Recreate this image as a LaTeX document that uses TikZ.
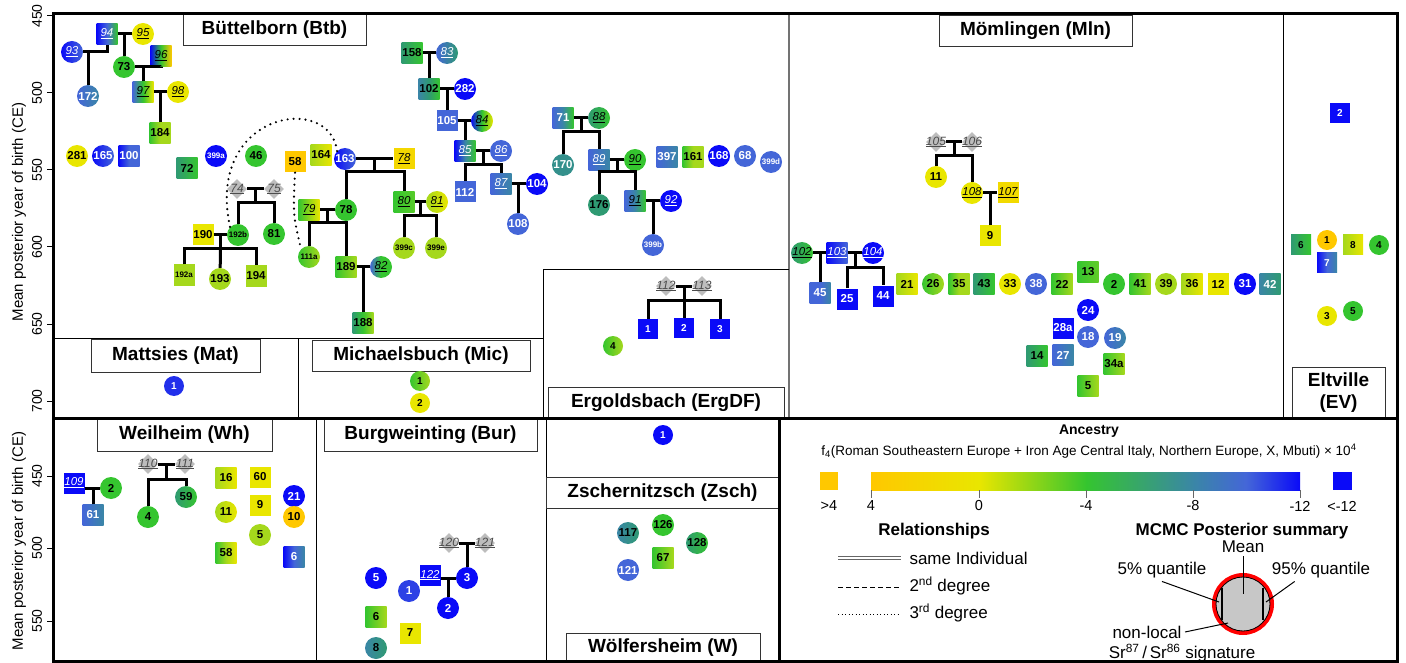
\documentclass[tikz,border=0pt]{standalone}
\usepackage{fontspec}
\setmainfont{Liberation Sans}
\usetikzlibrary{calc,shapes.geometric}

\definecolor{cGold}{HTML}{FFC800}
\definecolor{cYel}{HTML}{E9E600}
\definecolor{cYG}{HTML}{A5D81C}
\definecolor{cGrn}{HTML}{35C52F}
\definecolor{cTeal}{HTML}{2F9A72}
\definecolor{cSea}{HTML}{3A86A6}
\definecolor{cSteel}{HTML}{4466D8}
\definecolor{cBlue}{HTML}{0A0AF8}
\definecolor{cDia}{HTML}{BDBDBD}

\newcommand{\kin}[1]{\underline{\mdseries\itshape #1}}

\tikzset{
  nd/.style={inner sep=0pt, font=\bfseries\fontsize{11.5}{12}\selectfont},
  sq/.style={nd, rectangle, minimum width=21pt, minimum height=21pt},
  ci/.style={nd, circle, minimum size=22pt},
  dm/.style={diamond, fill=cDia, minimum size=20pt, inner sep=0pt,
    label={[font=\fontsize{12}{12}\selectfont, text=black!70]center:\kin{#1}}},
  sm/.style={font=\bfseries\fontsize{8}{9}\selectfont},
  ti/.style={font=\bfseries\fontsize{10}{10}\selectfont, minimum size=20pt},
  wt/.style={text=white},
  s2/.style 2 args={left color=#1, right color=#2},
  s3/.style n args={3}{left color=#1, right color=#3, middle color=#2},
  rel/.style={line width=3pt},
  deg3/.style={line width=2.4pt, dash pattern=on 0pt off 6pt, line cap=round},
  ttl/.style={draw=black!80, fill=white, inner sep=0pt, minimum height=31pt,
    font=\bfseries\fontsize{19}{22}\selectfont},
  lgd/.style={font=\fontsize{17}{19}\selectfont},
}

\begin{document}
\begin{tikzpicture}[x=1pt, y=-1pt]
\useasboundingbox (0,0) rectangle (1406,663);

% panels
\draw[black!55, line width=1.5pt] (789,14) -- (789,418);
\draw (1283,14) -- (1283,418);
\draw (53,338) -- (543,338);
\draw (298,338) -- (298,418);
\draw (543,418) |- (789,269);
\draw (316,418) -- (316,661);
\draw (546,418) -- (546,661);

% axes
\foreach \v/\yy in {450/16, 500/93, 550/170, 600/247, 650/324, 700/401, 450/476, 500/548, 550/621}{
  \draw[line width=1pt] (47,\yy) -- (53,\yy);
  \node[rotate=90, font=\fontsize{14}{14}\selectfont] at (37,\yy) {\v};
}
\node[rotate=90, font=\fontsize{15}{15}\selectfont] at (19,212) {Mean posterior year of birth (CE)};
\node[rotate=90, font=\fontsize{15}{15}\selectfont] at (19,541) {Mean posterior year of birth (CE)};

% titles
\node[ttl, minimum width=183pt] (tBtb) at (274.5,30) {Büttelborn (Btb)};
\node[ttl, minimum width=193pt] (tMln) at (1035.5,31) {Mömlingen (Mln)};
\node[ttl, minimum width=169pt, minimum height=33pt] (tMat) at (175.5,355.5) {Mattsies (Mat)};
\node[ttl, minimum width=218pt] (tMic) at (421,355.5) {Michaelsbuch (Mic)};
\node[ttl, minimum width=236pt] (tErg) at (666,402.5) {Ergoldsbach (ErgDF)};
\node[ttl, minimum width=93pt, minimum height=51pt, align=center] (tEV) at (1338.5,392.5) {Eltville\\(EV)};
\node[ttl, minimum width=175pt, minimum height=33pt] (tWh) at (184.5,434.5) {Weilheim (Wh)};
\node[ttl, minimum width=213pt, minimum height=33pt] (tBur) at (430.5,434.5) {Burgweinting (Bur)};
\node[ttl, minimum width=233pt] (tZsch) at (662.5,492.5) {Zschernitzsch (Zsch)};
\node[ttl, minimum width=194pt, minimum height=30pt] (tW) at (663,648) {Wölfersheim (W)};

% Buettelborn
\node[ci, s2={cBlue}{cSteel}, wt] (b93) at (72,52) {\kin{93}};
\node[sq, s3={cBlue}{cSteel}{cGrn}, wt] (b94) at (107,34) {\kin{94}};
\node[ci, fill=cYel] (b95) at (143,34) {\kin{95}};
\node[sq, s3={cBlue}{cGrn}{cGold}] (b96) at (161,56) {\kin{96}};
\node[ci, fill=cGrn] (b73) at (124,67) {73};
\node[sq, s3={cSteel}{cGrn}{cYel}] (b97) at (143,92) {\kin{97}};
\node[ci, fill=cYel] (b98) at (178,92) {\kin{98}};
\node[ci, s2={cSteel}{cSea}, wt] (b172) at (88,96) {172};
\node[sq, s3={cGrn}{cYG}{cYG}] (b184) at (160,133) {184};
\node[ci, fill=cYel] (b281) at (77,156) {281};
\node[ci, s2={cBlue}{cSteel}, wt] (b165) at (103,156) {165};
\node[sq, s3={cBlue}{cSteel}{cSteel}, wt] (b100) at (129,156) {100};
\node[sq, s2={cTeal}{cGrn}] (b72) at (187,168) {72};
\node[ci, sm, fill=cBlue, wt] (b399a) at (216,156) {399a};
\node[ci, fill=cGrn] (b46) at (256,156) {46};
\node[sq, fill=cGold] (b58) at (295,162) {58};
\node[sq, s2={cYG}{cYel}] (b164) at (321,155) {164};
\node[ci, s2={cBlue}{cSteel}, wt] (b163) at (345,159) {163};
\node[sq, fill=cGold!50!cYel] (b78k) at (404,159) {\kin{78}};
\node[dm=74] (b74) at (237,189) {};
\node[dm=75] (b75) at (274,189) {};
\node[sq, fill=cYel] (b190) at (203,235) {190};
\node[ci, sm, fill=cGrn] (b192b) at (238,235) {192b};
\node[ci, fill=cGrn] (b81) at (274,234) {81};
\node[sq, sm, fill=cYG] (b192a) at (184,275) {192a};
\node[ci, fill=cYG] (b193) at (220,279) {193};
\node[sq, fill=cYG] (b194) at (256,276) {194};
\node[sq, s2={cGrn}{cYel}] (b79) at (309,210) {\kin{79}};
\node[ci, fill=cGrn] (b78) at (346,210) {78};
\node[ci, sm, s2={cGrn}{cYG}] (b111a) at (309,257) {111a};
\node[sq, s2={cGrn}{cYG}] (b189) at (346,267) {189};
\node[ci, s3={cSteel}{cGrn}{cGrn}] (b82) at (381,267) {\kin{82}};
\node[sq, s3={cTeal}{cGrn}{cYG}] (b188) at (363,323) {188};
\node[sq, s2={cGrn}{cGrn!70!cYG}] (b80) at (404,202) {\kin{80}};
\node[ci, s2={cYG}{cYel}] (b81k) at (437,202) {\kin{81}};
\node[ci, sm, fill=cYG] (b399c) at (404,248) {399c};
\node[ci, sm, fill=cYG] (b399e) at (436,248) {399e};
\node[sq, s2={cTeal}{cGrn}] (b158) at (412,53) {158};
\node[ci, s2={cSteel}{cTeal}, wt] (b83) at (447,53) {\kin{83}};
\node[sq, s3={cSea}{cTeal}{cGrn}] (b102) at (429,89) {102};
\node[ci, fill=cBlue, wt] (b282) at (465,89) {282};
\node[sq, fill=cSteel, wt] (b105) at (447,121) {105};
\node[ci, s3={cBlue}{cGrn}{cYel}] (b84) at (482,121) {\kin{84}};
\node[sq, s3={cBlue}{cSea}{cGrn}, wt] (b85) at (465,151) {\kin{85}};
\node[ci, fill=cSteel, wt] (b86) at (501,151) {\kin{86}};
\node[sq, fill=cSteel, wt] (b112) at (465,192) {112};
\node[sq, s2={cSteel}{cSea}, wt] (b87) at (501,184) {\kin{87}};
\node[ci, fill=cBlue, wt] (b104) at (537,184) {104};
\node[ci, fill=cSteel, wt] (b108) at (518,224) {108};
\node[sq, s3={cSteel}{cSea}{cGrn}, wt] (b71) at (563,118) {71};
\node[ci, s2={cTeal}{cGrn}] (b88) at (599,118) {\kin{88}};
\node[ci, fill=cSea!50!cTeal, wt] (b170) at (563,165) {170};
\node[sq, s2={cSteel}{cSea}, wt] (b89) at (599,160) {\kin{89}};
\node[ci, fill=cGrn] (b90) at (635,160) {\kin{90}};
\node[ci, fill=cTeal] (b176) at (599,205) {176};
\node[sq, s3={cSteel}{cSea}{cGrn}] (b91) at (635,201) {\kin{91}};
\node[ci, fill=cBlue, wt] (b92) at (671,201) {\kin{92}};
\node[ci, sm, fill=cSteel, wt] (b399b) at (653,245) {399b};
\node[sq, s2={cSteel}{cSea}, wt] (b397) at (667,157) {397};
\node[sq, s3={cGrn}{cYG}{cYG}] (b161) at (693,157) {161};
\node[ci, fill=cBlue, wt] (b168) at (719,156) {168};
\node[ci, fill=cSteel, wt] (b68) at (745,156) {68};
\node[ci, sm, fill=cSteel, wt] (b399d) at (771,162) {399d};

\draw[rel] (b93) -| (b94);
\draw[rel] (b172) -- (b172 |- b93);
\draw[rel] (b94) -- (b95);
\draw[rel] (b73) -- (b73 |- b94);
\draw[rel] (b73) -| (b96);
\draw[rel] (b97) -- (b97 |- b73);
\draw[rel] (b97) -- (b98);
\draw[rel] (b184) -- (b184 |- b97);
\draw[rel] (b158) -- (b83);
\draw[rel] (b102) -- (b102 |- b158);
\draw[rel] (b102) -- (b282);
\draw[rel] (b105) -- (b105 |- b102);
\draw[rel] (b105) -- (b84);
\draw[rel] (b85) -- (b85 |- b105);
\draw[rel] (b85) -- (b86);
\draw[rel] ($(b85)!.5!(b86)$) -- ++(0,14) coordinate (j85);
\draw[rel] (b112) |- (j85) -| (b87);
\draw[rel] (b87) -- (b104);
\draw[rel] (b108) -- (b108 |- b87);
\draw[rel] (b71) -- (b88);
\draw[rel] ($(b71)!.5!(b88)$) -- ++(0,14) coordinate (j71);
\draw[rel] (b170) |- (j71) -| (b89);
\draw[rel] (b89) -- (b90);
\draw[rel] ($(b89)!.5!(b90)$) -- ++(0,12) coordinate (j89);
\draw[rel] (b176) |- (j89) -| (b91);
\draw[rel] (b91) -- (b92);
\draw[rel] (b399b) -- (b399b |- b91);
\draw[rel] (b163) -- (b78k);
\draw[rel] ($(b163)!.5!(b78k)$) -- ++(0,13) coordinate (j163);
\draw[rel] (b78) |- (j163) -| (b80);
\draw[rel] (b74) -- (b75);
\draw[rel] ($(b74)!.5!(b75)$) -- ++(0,14) coordinate (j74);
\draw[rel] (b192b) |- (j74) -| (b81);
\draw[rel] (b190) -- (b192b);
\draw[rel] ($(b190)!.5!(b192b)$) -- ++(0,14) coordinate (j190);
\draw[rel] (b192a) |- (j190) -| (b194);
\draw[rel] (j190) -- (b193);
\draw[rel] (b79) -- (b78);
\draw[rel] ($(b79)!.5!(b78)$) -- ++(0,13) coordinate (j79);
\draw[rel] (b111a) |- (j79) -| (b189);
\draw[rel] (b189) -- (b82);
\draw[rel] (b188) -- (b188 |- b82);
\draw[rel] (b80) -- (b81k);
\draw[rel] ($(b80)!.5!(b81k)$) -- ++(0,14) coordinate (j80);
\draw[rel] (b399c) |- (j80) -| (b399e);
\draw[deg3] (b163.north west) .. controls (330,92) and (205,112) .. (b192b.north west);
\draw[deg3] (b58.south) .. controls (293,215) .. (b111a.north west);

% Moemlingen
\node[dm=105] (m105) at (936,142) {};
\node[dm=106] (m106) at (972,142) {};
\node[ci, fill=cYel] (m11) at (936,177) {11};
\node[ci, fill=cYel] (m108) at (972,193) {\kin{108}};
\node[sq, fill=cGold!40!cYel] (m107) at (1008,193) {\kin{107}};
\node[sq, fill=cYel] (m9) at (990,236) {9};
\node[ci, s2={cTeal}{cGrn}] (m102) at (802,253) {\kin{102}};
\node[sq, s2={cBlue}{cSteel}, wt] (m103) at (837,253) {\kin{103}};
\node[ci, fill=cBlue, wt] (m104) at (873,253) {\kin{104}};
\node[sq, s3={cSteel}{cSteel}{cSea}, wt] (m45) at (820,293) {45};
\node[sq, fill=cBlue, wt] (m25) at (847,299) {25};
\node[sq, fill=cBlue, wt] (m44) at (883,296) {44};
\node[sq, s2={cYG}{cYel}] (m21) at (907,284) {21};
\node[ci, s2={cGrn}{cYG}] (m26) at (933,284) {26};
\node[sq, s3={cGrn}{cYG}{cYG}] (m35) at (959,284) {35};
\node[sq, s2={cTeal}{cGrn}] (m43) at (984,284) {43};
\node[ci, fill=cYel] (m33) at (1010,284) {33};
\node[ci, fill=cSteel, wt] (m38) at (1036,284) {38};
\node[sq, s2={cGrn}{cYG}] (m22) at (1062,284) {22};
\node[sq, s2={cGrn}{cGrn!60!cYG}] (m13) at (1088,272) {13};
\node[ci, fill=cGrn] (m2) at (1114,284) {2};
\node[sq, s2={cGrn}{cYG}] (m41) at (1140,284) {41};
\node[ci, fill=cYG] (m39) at (1166,284) {39};
\node[sq, s2={cYG}{cYel}] (m36) at (1192,284) {36};
\node[sq, fill=cYel] (m12) at (1218,284) {12};
\node[ci, fill=cBlue, wt] (m31) at (1245,284) {31};
\node[sq, s2={cSea}{cTeal}, wt] (m42) at (1270,284) {42};
\node[ci, fill=cBlue, wt] (m24) at (1088,310) {24};
\node[sq, fill=cBlue, wt] (m28a) at (1063,328) {28a};
\node[ci, fill=cSteel, wt] (m18) at (1088,337) {18};
\node[ci, s2={cSteel}{cSea}, wt] (m19) at (1115,338) {19};
\node[sq, s2={cTeal}{cGrn}] (m14) at (1037,356) {14};
\node[sq, s2={cSteel}{cSea}, wt] (m27) at (1063,355) {27};
\node[sq, s2={cGrn}{cYG}] (m34a) at (1114,364) {34a};
\node[sq, s2={cGrn}{cYG}] (m5) at (1088,386) {5};

\draw[rel] (m105) -- (m106);
\draw[rel] ($(m105)!.5!(m106)$) -- ++(0,14) coordinate (j105);
\draw[rel] (m11) |- (j105) -| (m108);
\draw[rel] (m108) -- (m107);
\draw[rel] (m9) -- (m9 |- m108);
\draw[rel] (m102) -- (m103);
\draw[rel] (m45) -- (m45 |- m102);
\draw[rel] (m103) -- (m104);
\draw[rel] ($(m103)!.5!(m104)$) -- ++(0,15) coordinate (j103);
\draw[rel] (m25) |- (j103) -| (m44);

% Eltville
\node[sq, ti, fill=cBlue, wt] (e2) at (1340,113) {2};
\node[sq, ti, s2={cTeal}{cGrn}] (e6) at (1301,245) {6};
\node[ci, ti, fill=cGold] (e1) at (1327,240) {1};
\node[sq, ti, s2={cYG}{cYel}] (e8) at (1353,245) {8};
\node[ci, ti, fill=cGrn] (e4) at (1379,245) {4};
\node[sq, ti, s3={cBlue}{cSteel}{cSea}, wt] (e7) at (1327,263) {7};
\node[ci, ti, fill=cYel] (e3) at (1327,316) {3};
\node[ci, ti, fill=cGrn] (e5) at (1353,311) {5};

% Ergoldsbach, Mattsies, Michaelsbuch
\node[dm=112] (g112) at (666,286) {};
\node[dm=113] (g113) at (702,286) {};
\node[sq, ti, fill=cBlue, wt] (g1) at (648,329) {1};
\node[sq, ti, fill=cBlue, wt] (g2) at (684,328) {2};
\node[sq, ti, fill=cBlue, wt] (g3) at (720,329) {3};
\node[ci, ti, s2={cGrn}{cYG}] (g4) at (613,346) {4};
\draw[rel] (g112) -- (g113);
\draw[rel] ($(g112)!.5!(g113)$) -- ++(0,14) coordinate (j112);
\draw[rel] (g1) |- (j112) -| (g3);
\draw[rel] (j112) -- (g2);
\node[ci, ti, fill=cSteel!40!cBlue, wt] (t1) at (174,386) {1};
\node[ci, ti, s2={cGrn}{cYG}] (c1) at (420,381) {1};
\node[ci, ti, fill=cYel] (c2) at (420,403) {2};

% Weilheim
\node[sq, fill=cBlue, wt] (w109) at (74,483) {\kin{109}};
\node[ci, fill=cGrn] (w2) at (111,488) {2};
\node[sq, s2={cSteel}{cSea}, wt] (w61) at (93,515) {61};
\node[dm=110] (w110) at (148,464) {};
\node[dm=111] (w111) at (185,464) {};
\node[ci, fill=cGrn] (w4) at (148,517) {4};
\node[ci, s2={cTeal}{cGrn}] (w59) at (186,497) {59};
\node[sq, s2={cYG}{cYel}] (w16) at (226,478) {16};
\node[sq, fill=cYel] (w60) at (260,477) {60};
\node[ci, s2={cYG}{cYel}] (w11) at (226,512) {11};
\node[sq, fill=cYel] (w9) at (260,505) {9};
\node[ci, fill=cYG] (w5) at (260,535) {5};
\node[sq, s3={cGrn}{cYG}{cYel}] (w58) at (226,553) {58};
\node[ci, fill=cBlue, wt] (w21) at (294,496) {21};
\node[ci, fill=cGold] (w10) at (294,517) {10};
\node[sq, s3={cBlue}{cSteel}{cSea}, wt] (w6) at (294,557) {6};
\draw[rel] (w109.east |- w2) -- (w2);
\draw[rel] (w61) -- (w61 |- w2);
\draw[rel] (w110) -- (w111);
\draw[rel] ($(w110)!.5!(w111)$) -- ++(0,15) coordinate (j110);
\draw[rel] (w4) |- (j110) -| (w59);

% Burgweinting
\node[dm=120] (u120) at (449,543) {};
\node[dm=121] (u121) at (485,543) {};
\node[ci, fill=cBlue, wt] (u3) at (467,578) {3};
\node[sq, fill=cBlue, wt] (u122) at (430,575) {\kin{122}};
\node[ci, fill=cBlue, wt] (u2) at (448,608) {2};
\node[ci, fill=cBlue, wt] (u5) at (376,578) {5};
\node[ci, fill=cSteel!60!cBlue, wt] (u1) at (409,591) {1};
\node[sq, s2={cGrn}{cYG}] (u6) at (376,617) {6};
\node[sq, fill=cYel] (u7) at (410,633) {7};
\node[ci, s2={cSea}{cTeal}] (u8) at (376,648) {8};
\draw[rel] (u120) -- (u121);
\draw[rel] (u3) -- (u3 |- u120);
\draw[rel] (u122.east |- u3) -- (u3);
\draw[rel] (u2) -- (u2 |- u3);

% Zschernitzsch, Woelfersheim
\node[ci, ti, fill=cBlue, wt] (z1) at (663,435) {1};
\node[ci, s2={cSea}{cTeal}] (f117) at (628,533) {117};
\node[ci, fill=cGrn] (f126) at (663,525) {126};
\node[ci, s2={cTeal}{cGrn}] (f128) at (697,543) {128};
\node[sq, s2={cGrn}{cYG}] (f67) at (663,558) {67};
\node[ci, fill=cSteel, wt] (f121) at (628,570) {121};

% legend
\node[font=\bfseries\fontsize{14}{14}\selectfont] (anc) at (1089,431) {Ancestry};
\node[font=\fontsize{13.5}{14}\selectfont] (f4) at (1089,451)
  {f\textsubscript{4}(Roman Southeastern Europe + Iron Age Central Italy, Northern Europe, X, Mbuti) × 10\textsuperscript{4}};
\fill[cGold] (820,472) rectangle (838,490);
\shade[left color=cGold, right color=cYel] (871,472) rectangle (979.5,490);
\shade[left color=cYel, right color=cGrn] (979,472) rectangle (1086.5,490);
\shade[left color=cGrn, right color=cSea] (1086,472) rectangle (1193.5,490);
\shade[left color=cSea, right color=cBlue, middle color=cSteel] (1193,472) rectangle (1300,490);
\fill[cBlue] (1333,472) rectangle (1352,490);
\foreach \xx/\t in {871/4, 979/0, 1086/-4, 1193/-8, 1300/-12}{
  \draw[black!60, line width=1pt] (\xx,490) -- (\xx,498);
  \node[font=\fontsize{14.5}{15}\selectfont] at (\xx,506) {\t};
}
\node[font=\fontsize{14.5}{15}\selectfont] at (829,506) {>4};
\node[font=\fontsize{14.5}{15}\selectfont] at (1342,506) {<-12};

\node[font=\bfseries\fontsize{17}{17}\selectfont] (relt) at (934,531) {Relationships};
\draw[black!60, double=white, double distance=2pt, line width=0.8pt] (838,558) -- (901,558);
\node[lgd, anchor=west] (same) at (906,558) {same Individual};
\draw[dash pattern=on 5pt off 3pt] (838,587) -- (901,587);
\node[lgd, anchor=west] (sec) at (906,586) {2\textsuperscript{nd} degree};
\draw[line width=1pt, dash pattern=on 1pt off 2.5pt] (838,614) -- (901,614);
\node[lgd, anchor=west] (thi) at (906,613) {3\textsuperscript{rd} degree};

\node[font=\bfseries\fontsize{17}{17}\selectfont] (mcmc) at (1242,531) {MCMC Posterior summary};
\node[lgd] (mean) at (1243,547) {Mean};
\node[lgd] (q5) at (1162,570) {5\% quantile};
\node[lgd] (q95) at (1321,570) {95\% quantile};
\node[lgd] (nl) at (1147,632) {non-local};
\node[lgd] (sr) at (1182,653) {Sr\textsuperscript{87}\,/\,Sr\textsuperscript{86} signature};
\coordinate (mc) at (1243,604);
\draw[red, line width=4pt, fill=black!22] (mc) circle (29pt);
\draw[line width=0.8pt] (mc) circle (27pt);
\draw[line width=1.3pt] (1222,588) -- (1222,620);
\draw[line width=1.3pt] (1263,588) -- (1263,620);
\draw[line width=1pt] (mean.south) -- (1243,594);
\draw[line width=1pt] (q5.south) -- (1219,602);
\draw[line width=1pt] ($(q95.south west)!.25!(q95.south east)$) -- (1266,602);
\draw[line width=1pt] (nl.east) -- (1228,623);

% frame
\draw[line width=3pt] (53,14) rectangle (1397,661);
\draw[line width=3pt] (53,418) -- (1397,418);
\draw[line width=3pt] (779,418) -- (779,661);
\end{tikzpicture}
\end{document}
